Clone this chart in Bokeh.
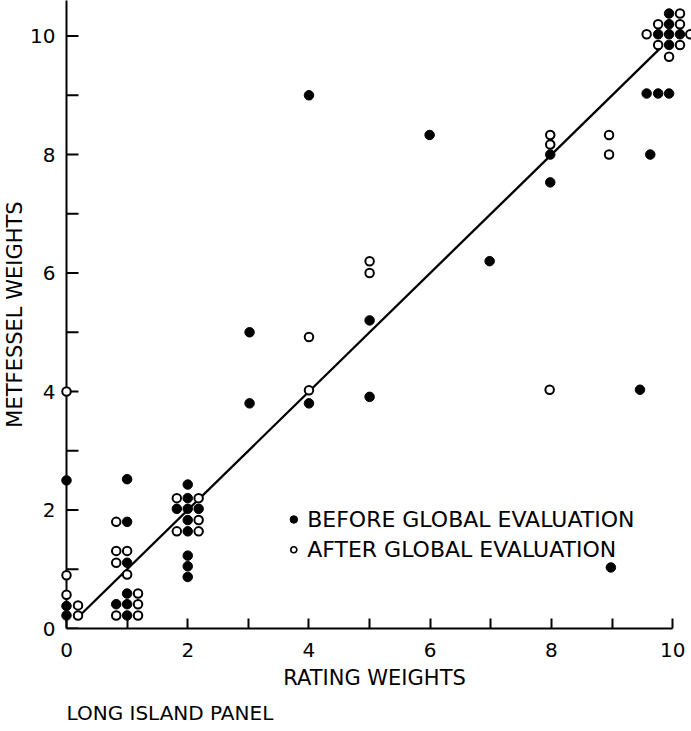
import math
from bokeh.plotting import figure
from bokeh.models import FixedTicker, Range1d, Title
from bokeh.core.properties import value
from bokeh.embed import file_html
from bokeh.resources import INLINE

# ---- data ----
before_x = [0, 0, 0,
            1.0, 1.0, 1.0, 1.0, 0.82, 1.0, 1.0,
            2.0, 2.0, 1.82, 2.0, 2.18, 2.0, 2.0, 2.0, 2.0, 2.0,
            3.02, 3.02, 4.0, 4.0, 5.0, 5.0, 5.99, 6.98, 7.98, 7.98,
            8.98, 9.46, 9.63, 9.57, 9.76, 9.94,
            9.94, 9.94, 9.76, 9.94, 10.12, 9.94]
before_y = [2.5, 0.38, 0.22,
            2.52, 1.8, 1.11, 0.59, 0.41, 0.41, 0.22,
            2.43, 2.2, 2.02, 2.02, 2.02, 1.83, 1.64, 1.23, 1.05, 0.87,
            5.0, 3.8, 9.0, 3.8, 5.2, 3.91, 8.33, 6.2, 8.0, 7.53,
            1.03, 4.03, 8.0, 9.03, 9.03, 9.03,
            10.38, 10.2, 10.03, 10.03, 10.03, 9.85]

after_x = [0, 0, 0, 0.19, 0.19,
           0.82, 0.82, 1.0, 0.82, 1.0, 1.18, 1.18, 0.82, 1.18,
           1.82, 2.18, 2.18, 1.82, 2.18,
           4.0, 4.0, 5.0, 5.0, 7.98, 7.98, 7.97, 8.95, 8.95,
           10.12, 9.76, 10.12, 9.57, 10.29, 9.76, 10.12, 9.94]
after_y = [4.0, 0.9, 0.57, 0.39, 0.22,
           1.8, 1.31, 1.31, 1.11, 0.91, 0.59, 0.41, 0.22, 0.22,
           2.2, 2.2, 1.83, 1.64, 1.64,
           4.92, 4.02, 6.2, 6.0, 8.33, 8.17, 4.03, 8.33, 8.0,
           10.38, 10.2, 10.2, 10.03, 10.03, 9.85, 9.85, 9.65]

fit_x = [0.22, 9.8]
fit_y = [0.22, 9.8]

major_ticks = [0, 2, 4, 6, 8, 10]
minor_ticks = [1, 3, 5, 7, 9]

legend_labels = ["BEFORE GLOBAL EVALUATION", "AFTER GLOBAL EVALUATION"]
legend_x = [3.75]
legend_y = [1.84, 1.33]

FONT = "DejaVu Sans"

p = figure(width=691, height=731, output_backend="svg", toolbar_location=None,
           x_range=Range1d(-0.1485, 10.31), y_range=Range1d(0, 10.6),
           min_border_left=57, min_border_right=0, min_border_top=0,
           min_border_bottom=103)
p.outline_line_color = None
p.xgrid.visible = False
p.ygrid.visible = False
p.background_fill_color = "white"
p.border_fill_color = "white"

# y axis rule at x = 0 (ray upward) and inward ticks at every integer
all_ticks = sorted(major_ticks + minor_ticks)
p.ray(x=[0], y=[0], length=0, angle=math.pi / 2, line_color="black", line_width=2)
p.ray(x=[0] * len(all_ticks), y=all_ticks, length=12, length_units="screen",
      angle=0, line_color="black", line_width=2)

# fitted line
p.line(fit_x, fit_y, line_color="black", line_width=2.3)

# points
p.scatter(before_x, before_y, marker="circle", size=9.5, fill_color="black",
          line_color="black", line_width=1)
p.scatter(after_x, after_y, marker="circle", size=8.5, fill_color="white",
          line_color="black", line_width=2)

# legend
p.scatter(legend_x, [legend_y[0]], marker="circle", size=7.5, fill_color="black",
          line_color="black", line_width=1)
p.scatter(legend_x, [legend_y[1]], marker="circle", size=6, fill_color="white",
          line_color="black", line_width=1.6)
p.text([legend_x[0] + 0.22] * 2, legend_y, text=legend_labels,
       text_font=value(FONT), text_font_size="22px", text_color="black",
       text_baseline="middle", text_align="left")

# x axis
xa = p.xaxis[0]
xa.ticker = FixedTicker(ticks=major_ticks, minor_ticks=minor_ticks)
xa.axis_line_width = 2
xa.major_tick_line_width = 2
xa.minor_tick_line_width = 2
xa.major_tick_out = 0
xa.minor_tick_out = 0
xa.major_tick_in = 10
xa.minor_tick_in = 10
xa.major_label_text_font = FONT
xa.major_label_text_font_size = "20px"
xa.major_label_text_color = "black"
xa.major_label_standoff = 14
xa.axis_label = "RATING WEIGHTS"
xa.axis_label_text_font = FONT
xa.axis_label_text_font_size = "21px"
xa.axis_label_text_font_style = "normal"
xa.axis_label_text_color = "black"
xa.axis_label_standoff = 6
xa.bounds = (0, 10)

# y tick labels and title, on the frame edge
ya = p.yaxis[0]
ya.ticker = FixedTicker(ticks=major_ticks, minor_ticks=minor_ticks)
ya.axis_line_color = None
ya.major_tick_line_color = None
ya.minor_tick_line_color = None
ya.major_tick_in = 0
ya.major_tick_out = 0
ya.minor_tick_in = 0
ya.minor_tick_out = 0
ya.major_label_text_font = FONT
ya.major_label_text_font_size = "20px"
ya.major_label_text_color = "black"
ya.major_label_standoff = 2
ya.axis_label = "METFESSEL WEIGHTS"
ya.axis_label_text_font = FONT
ya.axis_label_text_font_size = "21px"
ya.axis_label_text_font_style = "normal"
ya.axis_label_text_color = "black"
ya.axis_label_standoff = 0

p.add_layout(Title(text="LONG ISLAND PANEL", align="left", text_font=FONT,
                   text_font_size="20px", text_font_style="normal",
                   text_color="black", standoff=13, offset=9), "below")

open("out.html", "w").write(file_html(p, INLINE))
